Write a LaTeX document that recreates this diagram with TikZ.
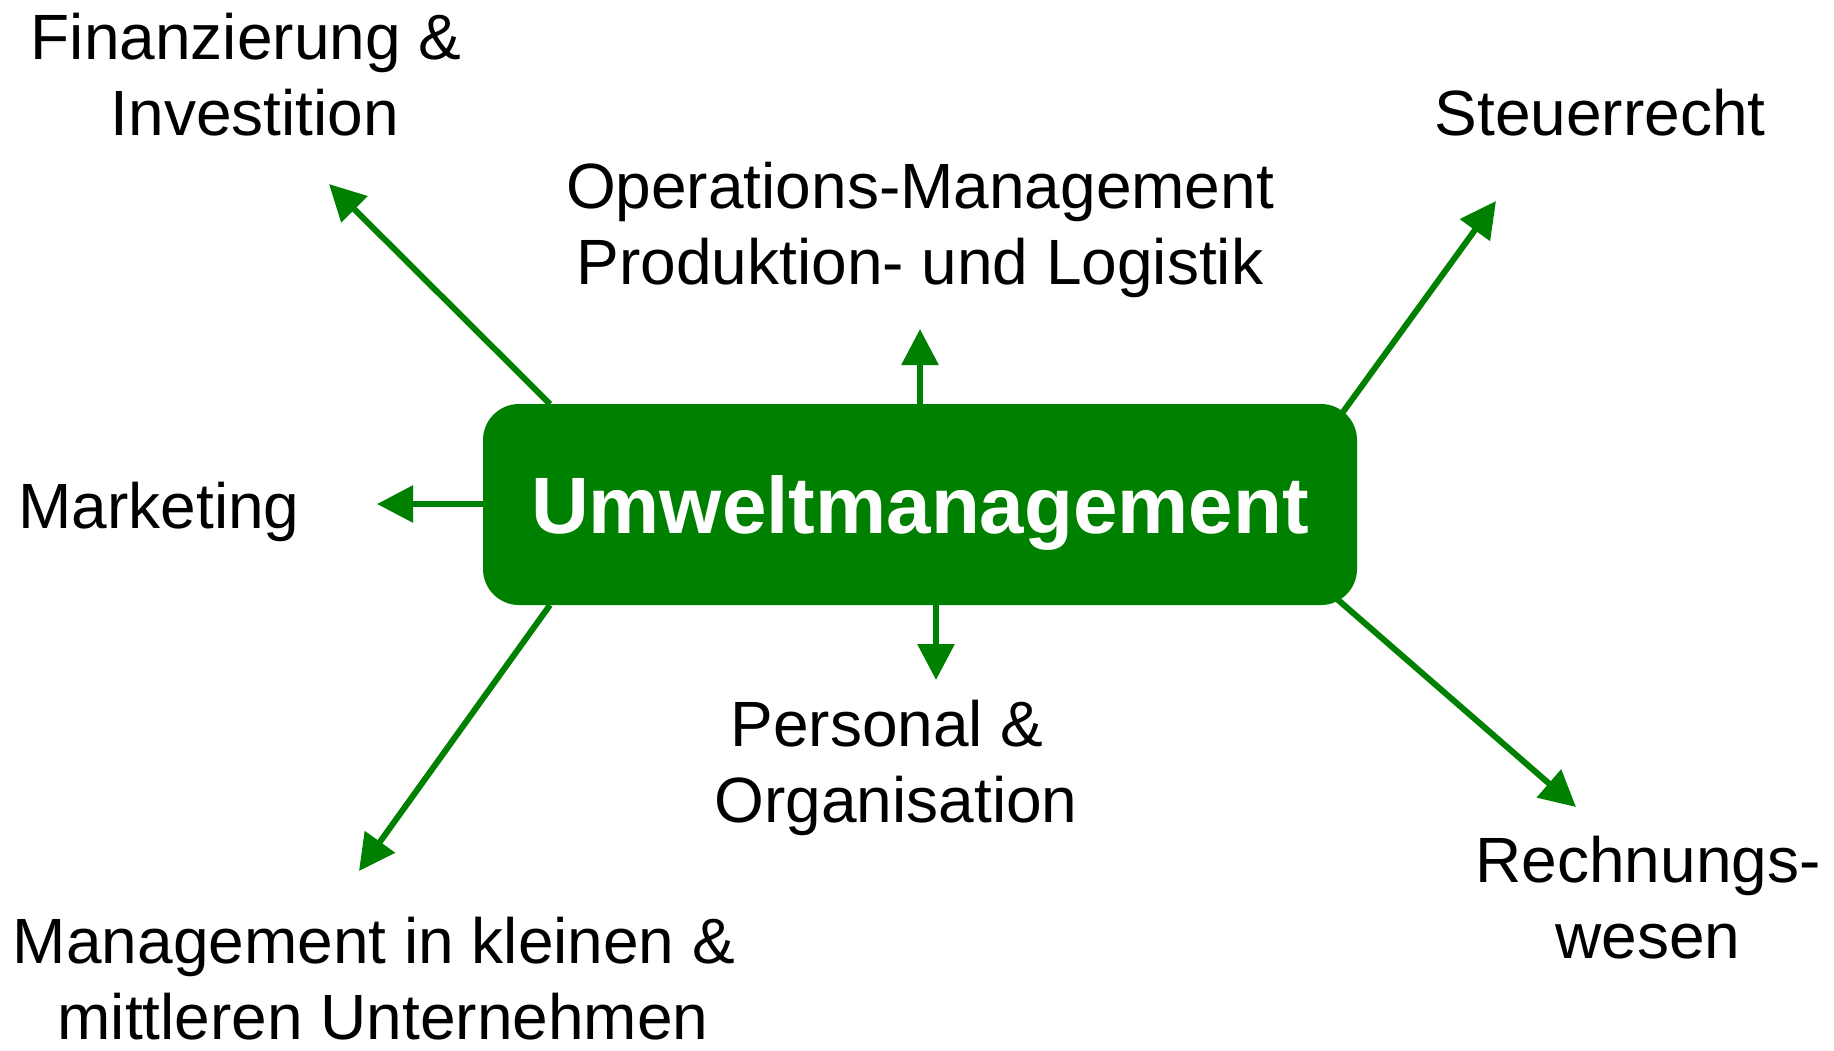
\documentclass[tikz,border=0pt]{standalone}
\usepackage{fontspec}
\setmainfont{Liberation Sans}
\usetikzlibrary{arrows.meta}
\definecolor{umgreen}{RGB}{0,128,0}
\newcommand{\tsp}{\hspace*{.278em}}
\begin{document}
\begin{tikzpicture}[x=1pt,y=-1pt,
  lbl/.style={align=center,font=\fontsize{64}{76}\selectfont,inner sep=0pt,text=black},
  arr/.style={draw=umgreen,line width=6pt,-{Triangle[length=36pt,width=36pt]}},
  hub/.style={fill=umgreen,rounded corners=36pt,minimum width=874pt,minimum height=201pt,inner sep=0pt,text depth=0pt,text=white,font=\fontsize{80}{96}\selectfont\bfseries}]
\useasboundingbox (0,0) rectangle (1834,1050);
\node[hub] (um) at (920,504.5) {Umweltmanagement};
\node[lbl] (fin) at (255,75) {Finanzierung \&\tsp\\Investition};
\node[lbl] (ops) at (920,230) {Operations-Management\\Produktion- und Logistik};
\node[lbl] (st) at (1600,113) {Steuerrecht};
\node[lbl] (mk) at (159,512) {Marketing};
\node[lbl] (pers) at (896,768) {Personal \&\tsp\\Organisation};
\node[lbl,text depth=0pt,anchor=south] (kmu) at (383,1040) {Management in kleinen \&\tsp\\mittleren Unternehmen};
\node[lbl] (rw) at (1648,898) {Rechnungs-\\wesen};
% start points on box border
\coordinate (s1) at (550,404);
\coordinate (s2) at (920,404);
\coordinate (s3) at (1343,412);
\coordinate (s4) at (483,504);
\coordinate (s5) at (550,605);
\coordinate (s6) at (936,605);
\coordinate (s7) at (1337,599);
% tips
\coordinate (t1) at (329,184);
\coordinate (t2) at (920,329);
\coordinate (t3) at (1496,201);
\coordinate (t4) at (377,504);
\coordinate (t5) at (359,871);
\coordinate (t6) at (936,680);
\coordinate (t7) at (1576,807);
\draw[arr] (s1) -- (t1);
\draw[arr] (s2) -- (t2);
\draw[arr] (s3) -- (t3);
\draw[arr] (s4) -- (t4);
\draw[arr] (s5) -- (t5);
\draw[arr] (s6) -- (t6);
\draw[arr] (s7) -- (t7);
\end{tikzpicture}
\end{document}
